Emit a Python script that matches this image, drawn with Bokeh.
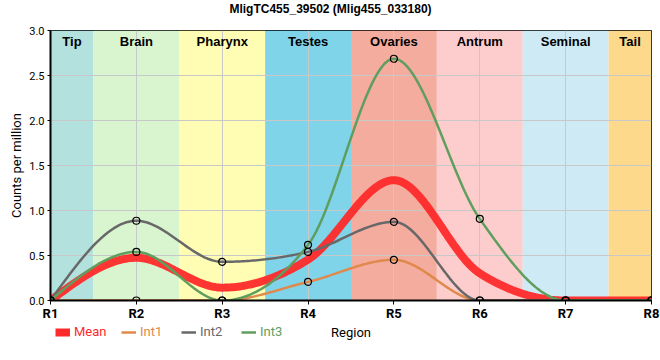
import numpy as np
from bokeh.plotting import figure
from bokeh.layouts import column
from bokeh.models import (Legend, LegendItem, Range1d, FixedTicker,
                          NumeralTickFormatter, ColumnDataSource)
from bokeh.core.properties import value
from bokeh.embed import file_html
from bokeh.resources import INLINE

# ---------------- data ----------------
title_text = "MligTC455_39502 (Mlig455_033180)"
regions = ["R1", "R2", "R3", "R4", "R5", "R6", "R7", "R8"]
tissues = ["Tip", "Brain", "Pharynx", "Testes", "Ovaries", "Antrum", "Seminal", "Tail"]
tissue_colors = ["#b3e2de", "#d9f5d0", "#fffdb3", "#7fd4ea",
                 "#f4ac9e", "#fdcdcd", "#ceebf5", "#fdd98b"]
mean_vals = [0.0, 0.475, 0.143, 0.455, 1.337, 0.302, 0.0, 0.0]
int1_vals = [0.0, 0.0, 0.0, 0.207, 0.452, 0.0, 0.0, 0.0]
int2_vals = [0.0, 0.886, 0.430, 0.540, 0.874, 0.0, 0.0, 0.0]
int3_vals = [0.0, 0.540, 0.0, 0.619, 2.686, 0.907, 0.0, 0.0]
y_ticks = [0.0, 0.5, 1.0, 1.5, 2.0, 2.5, 3.0]

series_names = ["Mean", "Int1", "Int2", "Int3"]
series_vals = [mean_vals, int1_vals, int2_vals, int3_vals]
series_colors = ["#ff2a2a", "#e0894c", "#686868", "#5f9e5f"]
series_widths = [8, 2.5, 2.5, 2.5]

xs = list(range(1, len(regions) + 1))


# monotone-x cubic interpolation (as d3.curveMonotoneX)
def monotone(x, y, n=40):
    x = np.asarray(x, float)
    y = np.asarray(y, float)
    m = len(x)
    t = np.zeros(m)
    for i in range(1, m - 1):
        h0 = x[i] - x[i - 1]
        h1 = x[i + 1] - x[i]
        s0 = (y[i] - y[i - 1]) / h0
        s1 = (y[i + 1] - y[i]) / h1
        p = (s0 * h1 + s1 * h0) / (h0 + h1)
        t[i] = (np.sign(s0) + np.sign(s1)) * min(abs(s0), abs(s1), 0.5 * abs(p))
    h = x[1] - x[0]
    t[0] = (3 * (y[1] - y[0]) / h - t[1]) / 2
    h = x[-1] - x[-2]
    t[-1] = (3 * (y[-1] - y[-2]) / h - t[-2]) / 2
    ox, oy = [], []
    for i in range(m - 1):
        dx = x[i + 1] - x[i]
        u = np.linspace(0, 1, n, endpoint=(i == m - 2))
        h00 = 2 * u**3 - 3 * u**2 + 1
        h10 = u**3 - 2 * u**2 + u
        h01 = -2 * u**3 + 3 * u**2
        h11 = u**3 - u**2
        ox.extend(x[i] + u * dx)
        oy.extend(h00 * y[i] + h10 * dx * t[i] + h01 * y[i + 1] + h11 * dx * t[i + 1])
    return ox, oy


W = 660
BL, BR = 50, 9          # left / right borders shared by all stacked panels
FL, FR = BL, W - BR     # frame edges in page pixels


def strip(height):
    f = figure(width=W, height=height, output_backend="svg", toolbar_location=None,
               x_range=Range1d(FL, FR), y_range=Range1d(0, height),
               x_axis_location=None, y_axis_location=None,
               min_border_left=BL, min_border_right=BR,
               min_border_top=0, min_border_bottom=0)
    f.grid.visible = False
    f.outline_line_color = None
    f.background_fill_color = "white"
    f.border_fill_color = "white"
    return f


# ---------------- title strip ----------------
TH = 22
t = strip(TH)
t.text(x=[W / 2], y=[TH - 8], text=[title_text], text_align="center",
       text_baseline="middle", text_font=value("Liberation Sans"),
       text_font_size="12px", text_font_style="bold", text_color="black")

# ---------------- main figure ----------------
MH = 303
p = figure(width=W, height=MH, output_backend="svg", toolbar_location=None,
           x_range=Range1d(1, 8), y_range=Range1d(0, 3),
           min_border_left=BL, min_border_right=BR,
           min_border_top=8, min_border_bottom=25)

p.background_fill_color = "white"
p.border_fill_color = "white"
p.outline_line_color = "black"
p.outline_line_width = 1
p.outline_line_alpha = 1

# tissue bands
left = [max(xs[0], i - 0.5) for i in xs]
right = [min(xs[-1], i + 0.5) for i in xs]
band_src = ColumnDataSource(dict(left=left, right=right, color=tissue_colors,
                                 name=tissues,
                                 cx=[(a + b) / 2 for a, b in zip(left, right)],
                                 top=[3.0] * len(tissues)))
p.quad(left="left", right="right", bottom=0, top=3, fill_color="color",
       line_color=None, source=band_src, level="image")
p.text(x="cx", y="top", text="name", source=band_src, text_align="center",
       text_baseline="top", y_offset=3, text_font=value("Liberation Sans"),
       text_font_size="13px", text_font_style="bold", text_color="black")

# axes
p.xaxis.ticker = FixedTicker(ticks=xs)
p.xaxis.major_label_overrides = {i: r for i, r in zip(xs, regions)}
p.yaxis.ticker = FixedTicker(ticks=y_ticks)
p.yaxis.formatter = NumeralTickFormatter(format="0.0")
for ax in (p.xaxis, p.yaxis):
    ax.minor_tick_line_color = None
    ax.axis_line_color = "black"
    ax.axis_line_width = 2
    ax.major_tick_line_color = "black"
    ax.major_tick_in = 0
p.xaxis.major_tick_out = 4
p.yaxis.major_tick_out = 3
p.xaxis.major_label_text_font = "Roboto"
p.xaxis.major_label_text_font_style = "bold"
p.xaxis.major_label_text_font_size = "13px"
p.xaxis.major_label_text_color = "black"
p.xaxis.major_label_standoff = 1
p.yaxis.major_label_text_font = "Roboto"
p.yaxis.major_label_text_font_size = "11px"
p.yaxis.major_label_text_color = "black"
p.yaxis.major_label_standoff = 3
p.yaxis.axis_label = "Counts per million"
p.yaxis.axis_label_standoff = 2
p.yaxis.axis_label_text_font = "Roboto"
p.yaxis.axis_label_text_font_style = "normal"
p.yaxis.axis_label_text_font_size = "13px"
p.yaxis.axis_label_text_color = "black"

p.xgrid.ticker = FixedTicker(ticks=xs)
p.ygrid.ticker = FixedTicker(ticks=y_ticks)
for g in (p.xgrid, p.ygrid):
    g.grid_line_color = "#c8c8c8"
    g.grid_line_width = 1

# series lines
for name, vals, col, w in zip(series_names, series_vals, series_colors, series_widths):
    cx, cy = monotone(xs, vals)
    p.line(cx, cy, line_color=col, line_width=w,
           line_alpha=0.95 if name == "Mean" else 1.0)

# markers for individual series
for vals in series_vals[1:]:
    p.scatter(xs, vals, size=7, fill_alpha=0, line_color="black", line_width=1.2)

# ---------------- legend strip (with x-axis title) ----------------
SH = 35
q = strip(SH)
leg_x = [5, 71, 131, 191]   # offsets from frame left, in pixels
for name, col, w, lx in zip(series_names, series_colors, series_widths, leg_x):
    r = q.line([-20, -10], [-20, -10], line_color=col, line_width=w)
    lg = Legend(items=[LegendItem(label=name, renderers=[r])],
                location=(lx, SH - 14), orientation="horizontal",
                label_text_color=col, label_text_font="Roboto",
                label_text_font_size="13px", border_line_alpha=0,
                background_fill_alpha=0, padding=0, margin=0,
                glyph_width=15, glyph_height=14, label_height=14,
                label_standoff=4)
    q.add_layout(lg, "center")

q.text(x=[(FL + FR) / 2], y=[SH - 7], text=["Region"], text_align="center",
       text_baseline="middle", text_font=value("Roboto"),
       text_font_size="13px", text_color="black")

layout = column(t, p, q, spacing=0)
open("out.html", "w").write(file_html(layout, INLINE))
